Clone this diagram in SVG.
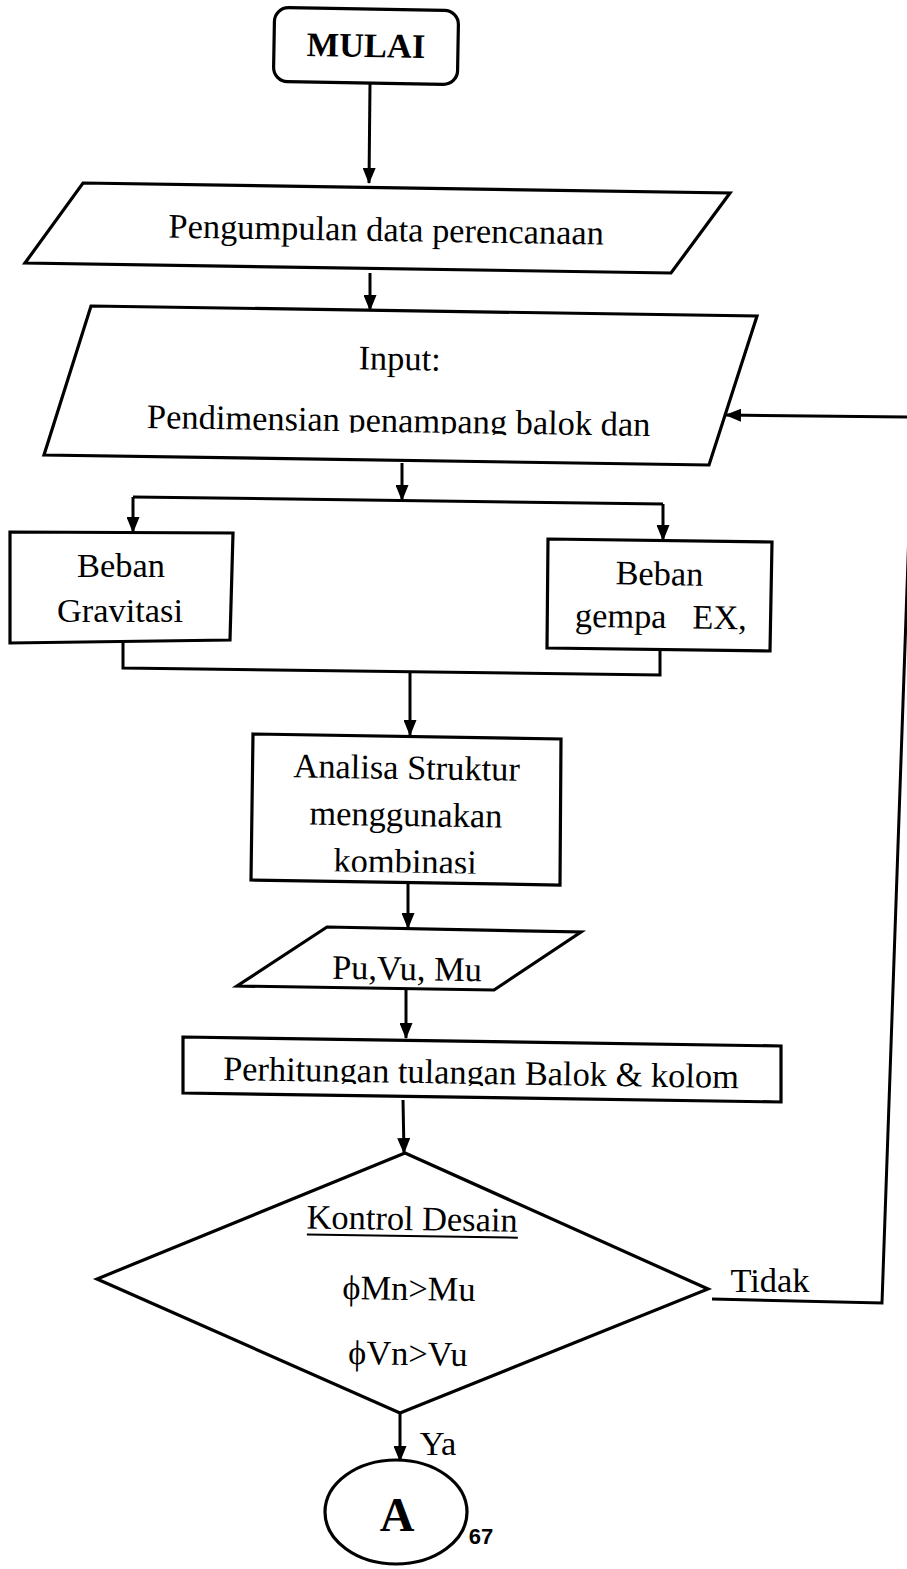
<svg xmlns="http://www.w3.org/2000/svg" width="907" height="1569" viewBox="0 0 907 1569">
<style>
.s{fill:#fff;stroke:#000;stroke-width:3.2;stroke-linejoin:miter}
.c{fill:none;stroke:#000;stroke-width:3}
.t{font-family:"Liberation Serif","Times New Roman",serif;font-size:34.4px;fill:#000;text-anchor:middle}
.b{font-weight:bold}
</style>
<defs>
<marker id="ah" markerUnits="userSpaceOnUse" markerWidth="16" markerHeight="13" refX="15" refY="6.5" orient="auto">
<path d="M0,0 L16,6.5 L0,13 z" fill="#000"/>
</marker>
<clipPath id="clipPend" clipPathUnits="userSpaceOnUse"><rect x="100" y="380" width="600" height="53.5"/></clipPath>
<clipPath id="clipKomb" clipPathUnits="userSpaceOnUse"><rect x="300" y="840" width="220" height="32.5"/></clipPath>
<clipPath id="clipPerh" clipPathUnits="userSpaceOnUse"><rect x="200" y="1040" width="570" height="46"/></clipPath>
</defs>
<rect width="907" height="1569" fill="#fff"/>
<g id="connectors">
<path class="c" d="M370,84 L369,183" marker-end="url(#ah)"/>
<path class="c" d="M370,273 L370,310" marker-end="url(#ah)"/>
<path class="c" d="M402,463 L402,500" marker-end="url(#ah)"/>
<path class="c" d="M133,497 L663,504"/>
<path class="c" d="M133,497 L133,532" marker-end="url(#ah)"/>
<path class="c" d="M663,504 L663,540" marker-end="url(#ah)"/>
<path class="c" d="M123,641 L123,668 L660,675 L660,650"/>
<path class="c" d="M410,672 L410,735" marker-end="url(#ah)"/>
<path class="c" d="M408,884 L408,928" marker-end="url(#ah)"/>
<path class="c" d="M406,989 L406,1038" marker-end="url(#ah)"/>
<path class="c" d="M403,1100 L404,1153" marker-end="url(#ah)"/>
<path class="c" d="M712,1299 L882,1303 L913,417 L726,415" marker-end="url(#ah)"/>
<path class="c" d="M400,1413 L400,1461" marker-end="url(#ah)"/>
</g>
<g id="mulai" transform="rotate(1 366 46)">
<rect class="s" x="274" y="9" width="184" height="74" rx="14"/>
<text class="t b" x="366" y="57">MULAI</text>
</g>
<g id="pengumpulan">
<polygon class="s" points="83,183 730,193 671,273 25,263"/>
<text class="t" x="386" y="241" transform="rotate(0.9 386 241)">Pengumpulan data perencanaan</text>
</g>
<g id="input">
<polygon class="s" points="91,306 757,316 709,465 44,455"/>
<g transform="rotate(0.9 399 400)">
<text class="t" x="399" y="370">Input:</text>
<text class="t" x="399" y="432" clip-path="url(#clipPend)">Pendimensian penampang balok dan</text>
</g>
</g>
<g id="gravitasi">
<polygon class="s" points="10,532 233,533 230,640 10,643"/>
<text class="t" x="121" y="577">Beban</text>
<text class="t" x="120" y="622">Gravitasi</text>
</g>
<g id="gempa">
<polygon class="s" points="548,539 772,542 770,651 547,648"/>
<g transform="rotate(0.9 660 605)">
<text class="t" x="659" y="585">Beban</text>
<text class="t" x="661" y="628" xml:space="preserve">gempa   EX,</text>
</g>
</g>
<g id="analisa">
<polygon class="s" points="253,734 561,739 560,885 251,880"/>
<g transform="rotate(0.9 406 810)">
<text class="t" x="406" y="779">Analisa Struktur</text>
<text class="t" x="406" y="826">menggunakan</text>
<text class="t" x="406" y="873" clip-path="url(#clipKomb)">kombinasi</text>
</g>
</g>
<g id="puvumu">
<polygon class="s" points="327,927 581,932 494,990 237,986"/>
<text class="t" x="407" y="980" transform="rotate(0.9 407 970)">Pu,Vu, Mu</text>
</g>
<g id="perhitungan">
<polygon class="s" points="183,1037 781,1046 781,1102 183,1093"/>
<g transform="rotate(0.9 481 1070)">
<text class="t" x="481" y="1084" clip-path="url(#clipPerh)">Perhitungan tulangan Balok &amp; kolom</text>
</g>
</g>
<g id="kontrol">
<polygon class="s" points="405,1153 708,1289 400,1413 97,1279"/>
<g transform="rotate(0.9 409 1290)">
<text class="t" x="411" y="1230">Kontrol Desain</text>
<line x1="306" y1="1236" x2="517" y2="1236" stroke="#000" stroke-width="2"/>
<text class="t" x="409" y="1300">ϕMn&gt;Mu</text>
<text class="t" x="409" y="1365">ϕVn&gt;Vu</text>
</g>
</g>
<g id="labels">
<text class="t" x="770" y="1292">Tidak</text>
<text class="t" x="438" y="1455">Ya</text>
</g>
<g id="connectorA">
<ellipse class="s" cx="396" cy="1512" rx="71" ry="52"/>
<text class="t b" x="397" y="1531" style="font-size:48px">A</text>
</g>
<text x="481" y="1544" style="font-family:'Liberation Sans',Arial,sans-serif;font-size:22px;font-weight:bold;text-anchor:middle">67</text>
</svg>
